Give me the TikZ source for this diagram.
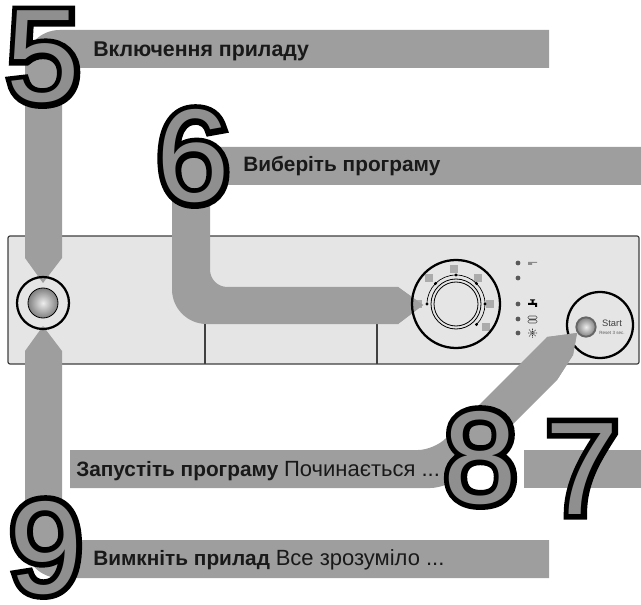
\documentclass[tikz,border=0pt]{standalone}
\usepackage{fontspec}
\usetikzlibrary{calc}
\setmainfont{Liberation Sans}
\newfontfamily\digitfont{Liberation Sans}
\newfontfamily\digitline[FakeBold=8.5]{Liberation Sans}
\definecolor{bandgray}{HTML}{9E9E9E}
\definecolor{digitgray}{HTML}{8F8F8F}
\definecolor{panelgray}{HTML}{E5E5E5}
\definecolor{squaregray}{HTML}{ABABAB}
\tikzset{
  band/.style={fill=bandgray,draw=none},
  panelline/.style={draw=black!75,line width=0.9pt},
  ring/.style={draw=black,line width=1.7pt},
  ball/.style={circle,inner sep=0pt,shading=radial,inner color=black!7,outer color=black!50},
  led/.style={circle,fill=black!65,inner sep=0pt,minimum size=3.6pt},
  dialdot/.style={circle,fill=black,inner sep=0pt,minimum size=2.4pt},
  dialsquare/.style={fill=squaregray,inner sep=0pt,minimum size=6.4pt},
  digitback/.style={anchor=base,inner sep=0pt,text=black,font=\fontsize{99}{99}\digitline},
  digitfront/.style={anchor=base,inner sep=0pt,text=digitgray,font=\fontsize{99}{99}\digitfont},
  label/.style={anchor=base west,inner sep=0pt,text=black!90,font=\fontsize{15.6}{17}\bfseries},
}
\newcommand{\stepdigit}[3]{
  \node[digitback] (#1back) at (#2) {#3};
  \node[digitfront] (#1) at (#2) {#3};
}
\newcommand{\plaintext}[1]{{\fontsize{16.5}{17}\mdseries\color{black!90}#1}}
\begin{document}
\begin{tikzpicture}[x=0.75pt,y=-0.75pt]
  \useasboundingbox (0,0) rectangle (641,605);
  % panel
  \draw[panelline,fill=panelgray,rounded corners=1.5pt] (8,236) rectangle (639,364);
  \draw[panelline] (205,324) -- (205,364);
  \draw[panelline] (377,324) -- (377,364);
  % bands
  \fill[band] (549,30) [rounded corners=26pt] -- (25,30) [sharp corners] -- (25,258) -- (43,283) -- (62,258) -- (62,68) -- (549,68) -- cycle;
  \fill[band] (549,578) [rounded corners=26pt] -- (25,578) [sharp corners] -- (25,351) -- (43,326) -- (62,351) -- (62,540) -- (549,540) -- cycle;
  \fill[band] (641,147) [rounded corners=26pt] -- (172,147) -- (172,324) [sharp corners] -- (398,324) -- (423,305) -- (398,287) [rounded corners=13pt] -- (210,287) [sharp corners] -- (210,185) -- (641,185) -- cycle;
  \fill[band] (70,450) [rounded corners=12pt] -- (434,450) [sharp corners] -- (547,337) -- (577,333) -- (573,355) -- (557,380) [rounded corners=14pt] -- (449,488) [sharp corners] -- (70,488) -- cycle;
  \fill[band] (524,450) rectangle (641,488);
  % power switch
  \node[circle,ring,minimum size=39pt,inner sep=0pt] (powerring) at (43,303) {};
  \node[ball,draw=black,line width=0.6pt,minimum size=22.5pt] (powerball) at (43,303) {};
  % programme dial
  \node[dialsquare] (sqa) at (454,269) {};
  \node[dialsquare] (sqb) at (429,278) {};
  \node[dialsquare] (sqc) at (478,278) {};
  \node[dialsquare] (sqd) at (490,304) {};
  \node[dialsquare] (sqe) at (486,327) {};
  \node[dialsquare] (sqf) at (418,304) {};
  \fill[band] (398,287) -- (423,305) -- (398,324) -- cycle;
  \node[circle,ring,minimum size=66pt,inner sep=0pt] (dialring) at (456,304) {};
  \draw[line width=0.6pt] (456,304) circle [radius=25];
  \draw[line width=0.6pt] (456,304) circle [radius=22];
  \draw[line width=0.5pt] (427,304) arc [start angle=180,end angle=405,radius=29];
  \foreach \ang in {180,225,270,315,0,45}
    \node[dialdot] at ($(456,304)+(\ang:29)$) {};
  % lamps
  \foreach \ypos in {263,278,304,319,333}
    \node[led] at (518,\ypos) {};
  \fill[black!45] (528,262) -- (537,262) -- (537,263) -- (532,263) -- (532,265) -- (528,265) -- cycle;
  \fill[black] (528,303) rectangle (537,305) (531.5,300) rectangle (533.5,303) (530,299.5) rectangle (535,300.5) (535,305) rectangle (537,307);
  \draw[black!70,line width=0.4pt,rounded corners=1pt] (528,316) rectangle (537,319) (528,320) rectangle (537,323);
  \draw[black!80,line width=0.4pt,dash pattern=on 1pt off 0.5pt] (528,333) -- (537,333) (532.5,328.5) -- (532.5,337.5) (529,329.5) -- (536,336.5) (529,336.5) -- (536,329.5);
  % start button
  \node[circle,ring,minimum size=49.5pt,inner sep=0pt] (startring) at (600,325) {};
  \fill[band] (547,337) -- (577,333) -- (573,355) -- (557,380) -- (540,360) -- cycle;
  \node[ball,draw=black!60,line width=1.4pt,minimum size=14.5pt] (startball) at (586,327) {};
  \node[inner sep=0pt,text=black!75,font=\fontsize{7}{8}\selectfont] (starttext) at (612,323) {Start};
  \node[inner sep=0pt,text=black!65,font=\fontsize{3.4}{4}\selectfont] (resettext) at (612,332.5) {Reset 3 sec.};
  % labels
  \node[label,font=\fontsize{16}{17}\bfseries] (switchon) at (93,56.5) {Включення приладу};
  \node[label] (program) at (243,172) {Виберіть програму};
  \node[label] (runprog) at (76,476.5) {Запустіть програму \plaintext{Починається ...}};
  \node[label] (switchoff) at (93,565) {Вимкніть прилад \plaintext{Все зрозуміло ...}};
  % numbers
  \stepdigit{five}{43.5,102}{5}
  \stepdigit{six}{193,202}{6}
  \stepdigit{eight}{480.5,503}{8}
  \stepdigit{seven}{582.5,514}{7}
  \stepdigit{nine}{46,593}{9}
\end{tikzpicture}
\end{document}
